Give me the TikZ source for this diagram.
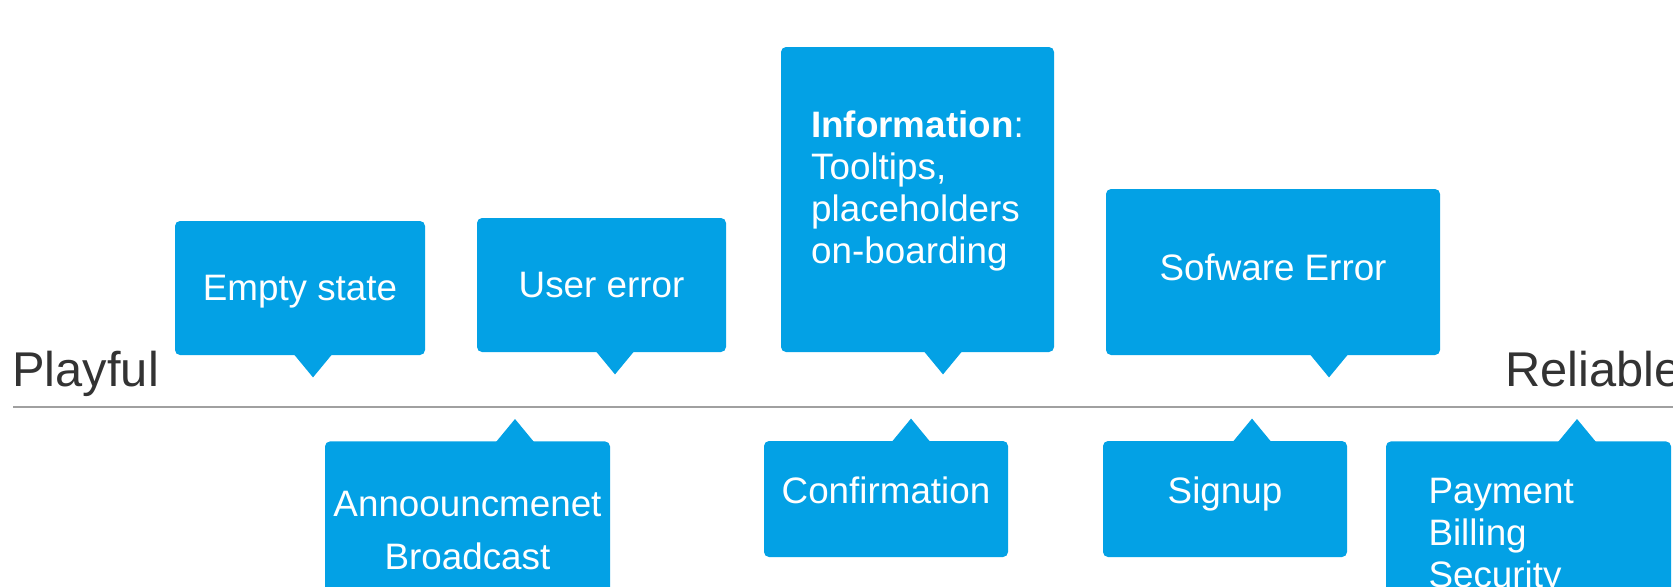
\documentclass[tikz,border=0pt]{standalone}
\usepackage{fontspec}
\setmainfont{Liberation Sans}
\usepackage{xcolor}
\usepackage{tikz}
\usetikzlibrary{calc, positioning}

\definecolor{msgblue}{HTML}{03A1E5}
\definecolor{labelgray}{HTML}{333333}
\definecolor{axisgray}{HTML}{A0A0A0}
\tikzset{
    msgbox/.style={fill=msgblue, text=white, rounded corners=2.5pt, inner sep=2pt,
        font=\fontsize{18.4}{21}\selectfont},
    scalelabel/.style={text=labelgray, inner sep=0pt, font=\fontsize{24.4}{28}\selectfont}
}

\begin{document}
\begin{tikzpicture}[x=0.5pt, y=0.5pt]
    \useasboundingbox (0,0) rectangle (1673,586);
    \clip (0,0) rectangle (1673,586);
    % Trục ngang
    \draw[axisgray, line width=1.4pt] (13,179) -- (1673,179);
    \node[scalelabel, anchor=base west] (playful) at (12,200) {Playful};
    \node[scalelabel, anchor=base west] (reliable) at (1505,200) {Reliable};

    % Các hộp phía trên
    \node[msgbox, minimum width=125pt, minimum height=67pt, text depth=0pt] (empty) at (300,298) {Empty state};
    \node[msgbox, minimum width=124.5pt, minimum height=67pt] (usererr) at (601.5,301) {User error};
    \node[msgbox, minimum width=136.5pt, minimum height=152.5pt, align=left, text depth=12pt]
        (info) at (917.5,386.5) {\textbf{Information}:\\Tooltips,\\placeholders\\on-boarding};
    \node[msgbox, minimum width=167pt, minimum height=83pt, text depth=5pt] (softerr) at (1273,314) {Sofware Error};
    \fill[msgblue] ($(empty.south)+(-6,1)$) -- ++(19,-23) -- ++(19,23) -- cycle;
    \fill[msgblue] ($(usererr.south)+(-5.5,1)$) -- ++(19,-23) -- ++(19,23) -- cycle;
    \fill[msgblue] ($(info.south)+(6.5,1)$) -- ++(19,-23) -- ++(19,23) -- cycle;
    \fill[msgblue] ($(softerr.south)+(37,1)$) -- ++(19,-23) -- ++(19,23) -- cycle;

    % Các hộp phía dưới
    \node[msgbox, anchor=north, minimum width=142.5pt, inner xsep=2pt, inner ysep=25pt, align=center,
        font=\fontsize{18.4}{26.6}\selectfont] (announce) at (467.5,145) {Annoouncmenet\\Broadcast};
    \node[msgbox, minimum width=122pt, minimum height=58pt, text depth=9pt] (confirm) at (886,87) {Confirmation};
    \node[msgbox, minimum width=122pt, minimum height=58pt, text depth=9pt] (signup) at (1225,87) {Signup};
    \node[msgbox, anchor=north, text width=100pt, inner xsep=21.25pt, inner ysep=18.5pt, align=left]
        (payment) at (1528.5,145) {Payment\\Billing\\Security};
    \fill[msgblue] ($(announce.north)+(28.5,-1)$) -- ++(19,23) -- ++(19,-23) -- cycle;
    \fill[msgblue] ($(confirm.north)+(6,-1)$) -- ++(19,23) -- ++(19,-23) -- cycle;
    \fill[msgblue] ($(signup.north)+(8,-1)$) -- ++(19,23) -- ++(19,-23) -- cycle;
    \fill[msgblue] ($(payment.north)+(29.5,-1)$) -- ++(19,23) -- ++(19,-23) -- cycle;
\end{tikzpicture}
\end{document}
